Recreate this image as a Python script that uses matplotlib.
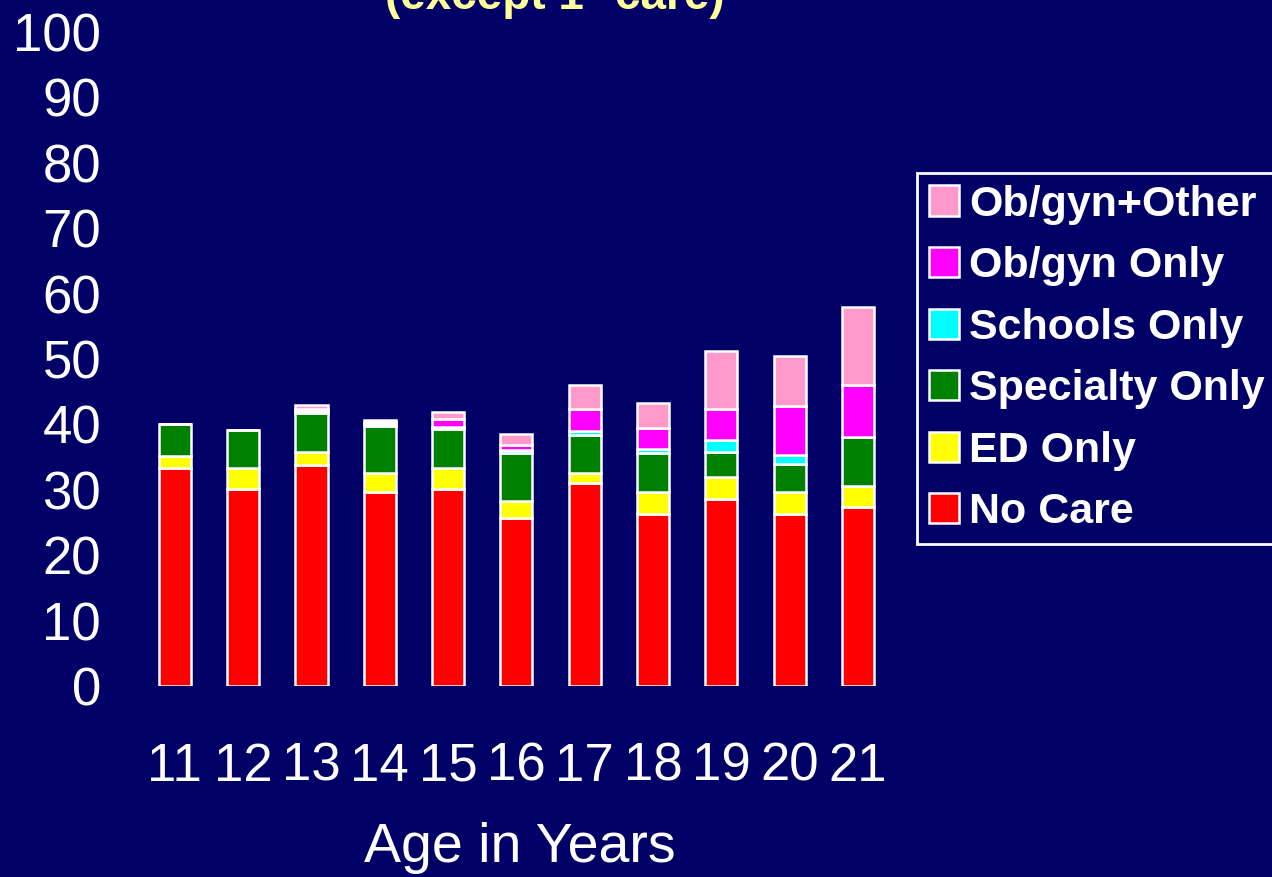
#!/usr/bin/env python

import matplotlib.pyplot as plt
import numpy as np

# Ages (x categories)
ages = [11, 12, 13, 14, 15, 16, 17, 18, 19, 20, 21]

# Stacked segments, bottom to top (percent)
no_care = [33.4, 30.1, 33.8, 29.6, 30.1, 25.7, 31.0, 26.3, 28.6, 26.3, 27.3]
ed_only = [1.8, 3.3, 2.0, 2.9, 3.3, 2.6, 1.5, 3.4, 3.4, 3.4, 3.3]
specialty_only = [4.9, 5.7, 6.0, 7.3, 5.9, 7.4, 5.9, 5.9, 3.8, 4.2, 7.5]
schools_only = [0.0, 0.0, 0.3, 0.2, 0.3, 0.4, 0.6, 0.7, 1.8, 1.4, 0.0]
obgyn_only = [0.0, 0.0, 0.3, 0.3, 1.2, 0.7, 3.3, 3.1, 4.7, 7.5, 8.0]
obgyn_other = [0.0, 0.0, 0.5, 0.3, 1.1, 1.8, 3.8, 3.9, 8.9, 7.6, 11.9]

series_names = ["No Care", "ED Only", "Specialty Only", "Schools Only",
                "Ob/gyn Only", "Ob/gyn+Other"]
series_colors = ["#FF0000", "#FFFF00", "#008000", "#00FFFF", "#FF00FF", "#FF99CC"]

BG = "#000066"

plt.rcParams["font.family"] = ["Liberation Sans", "DejaVu Sans"]

fig = plt.figure(figsize=(12.72, 8.77), dpi=100, facecolor=BG)
ax = fig.add_axes([140 / 1272, 1 - 686 / 877, 750 / 1272, 654 / 877])
ax.set_facecolor(BG)

series = [no_care, ed_only, specialty_only, schools_only, obgyn_only, obgyn_other]
bottom = np.zeros(len(ages))
handles = []
for vals, name, col in zip(series, series_names, series_colors):
    vals = np.array(vals)
    b = ax.bar(ages, vals, width=0.47, bottom=bottom, color=col,
               edgecolor="white", linewidth=1.8, label=name)
    handles.append(b)
    bottom += vals

ax.set_ylim(0, 100)
ax.set_xlim(10.49, 21.47)
ax.set_yticks(range(0, 101, 10))
ax.set_xticks(ages)
ax.tick_params(axis="both", length=0, colors="white", labelsize=38)
ax.tick_params(axis="y", pad=28)
ax.tick_params(axis="x", pad=40)
for s in ax.spines.values():
    s.set_visible(False)

ax.set_xlabel("Age in Years", color="white", fontsize=40)
ax.xaxis.set_label_coords(0.507, -0.247, transform=ax.transAxes)
ax.xaxis.label.set_va("center")

# top line of the title is cut off in the original slide
fig.text(0.436, 1 - 9 / 877, "(except 1\u00b0 care)", color="#FFFF99",
         fontsize=33, fontweight="bold", ha="center", va="baseline")

leg = fig.legend(handles[::-1], series_names[::-1], loc="upper left",
                 bbox_to_anchor=(917 / 1272, 1 - 173 / 877),
                 prop={"weight": "bold", "size": 31},
                 facecolor=BG, edgecolor="white", framealpha=1,
                 fancybox=False, borderpad=0.27, labelspacing=0.5,
                 handlelength=0.7, handleheight=0.7, handletextpad=0.24,
                 borderaxespad=0)
leg.get_frame().set_linewidth(2)
for t in leg.get_texts():
    t.set_color("white")

fig.savefig("out.png", dpi=100, facecolor=BG)
